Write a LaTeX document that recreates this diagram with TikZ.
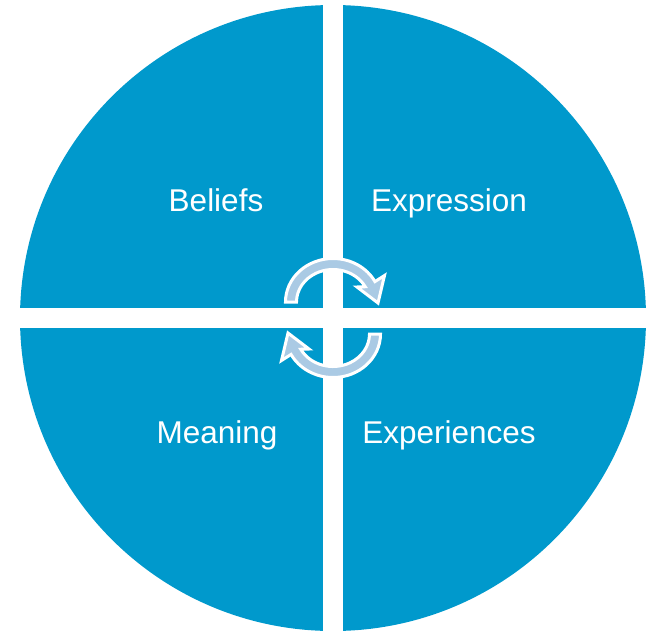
\documentclass[tikz,border=0pt]{standalone}
\usepackage{fontspec}
\setmainfont{Liberation Sans}
\usetikzlibrary{calc}
\definecolor{quadblue}{RGB}{0,153,204}
\definecolor{arrowblue}{RGB}{170,202,228}
\begin{document}
\begin{tikzpicture}[x=1pt,y=1pt,
  lbl/.style={text=white,anchor=base,inner sep=0pt,font=\fontsize{31.5}{36}\selectfont},
  cyclearrow/.style={fill=arrowblue,draw=white,line width=3pt,line join=miter}]
\useasboundingbox (0,0) rectangle (654,-633);
% circle and white cross
\fill[quadblue] (333,-318) circle[radius=313];
\fill[white] (323.4,1) rectangle (342.8,-634);
\fill[white] (-1,-308.3) rectangle (655,-327.7);
% labels
\node[lbl] (beliefs) at (216,-211) {Beliefs};
\node[lbl] (expression) at (449,-211) {Expression};
\node[lbl] (meaning) at (217,-443) {Meaning};
\node[lbl] (experiences) at (449,-443) {Experiences};
% cycle arrows
\coordinate (cu) at (333,-302);
\path[cyclearrow]
  ($(cu)+(180:47.5 and 43.5)$) arc[start angle=180,end angle=28,x radius=47.5,y radius=43.5]
  -- ($(cu)+(51.5,26.5)$) -- ($(cu)+(45,-1)$) -- ($(cu)+(24,15)$)
  -- ($(cu)+(28:36.5 and 32.5)$) arc[start angle=28,end angle=180,x radius=36.5,y radius=32.5]
  -- cycle;
\begin{scope}[rotate around={180:(333,-318)}]
\coordinate (cl) at (333,-302);
\path[cyclearrow]
  ($(cl)+(180:47.5 and 43.5)$) arc[start angle=180,end angle=28,x radius=47.5,y radius=43.5]
  -- ($(cl)+(51.5,26.5)$) -- ($(cl)+(45,-1)$) -- ($(cl)+(24,15)$)
  -- ($(cl)+(28:36.5 and 32.5)$) arc[start angle=28,end angle=180,x radius=36.5,y radius=32.5]
  -- cycle;
\end{scope}
\end{tikzpicture}
\end{document}
